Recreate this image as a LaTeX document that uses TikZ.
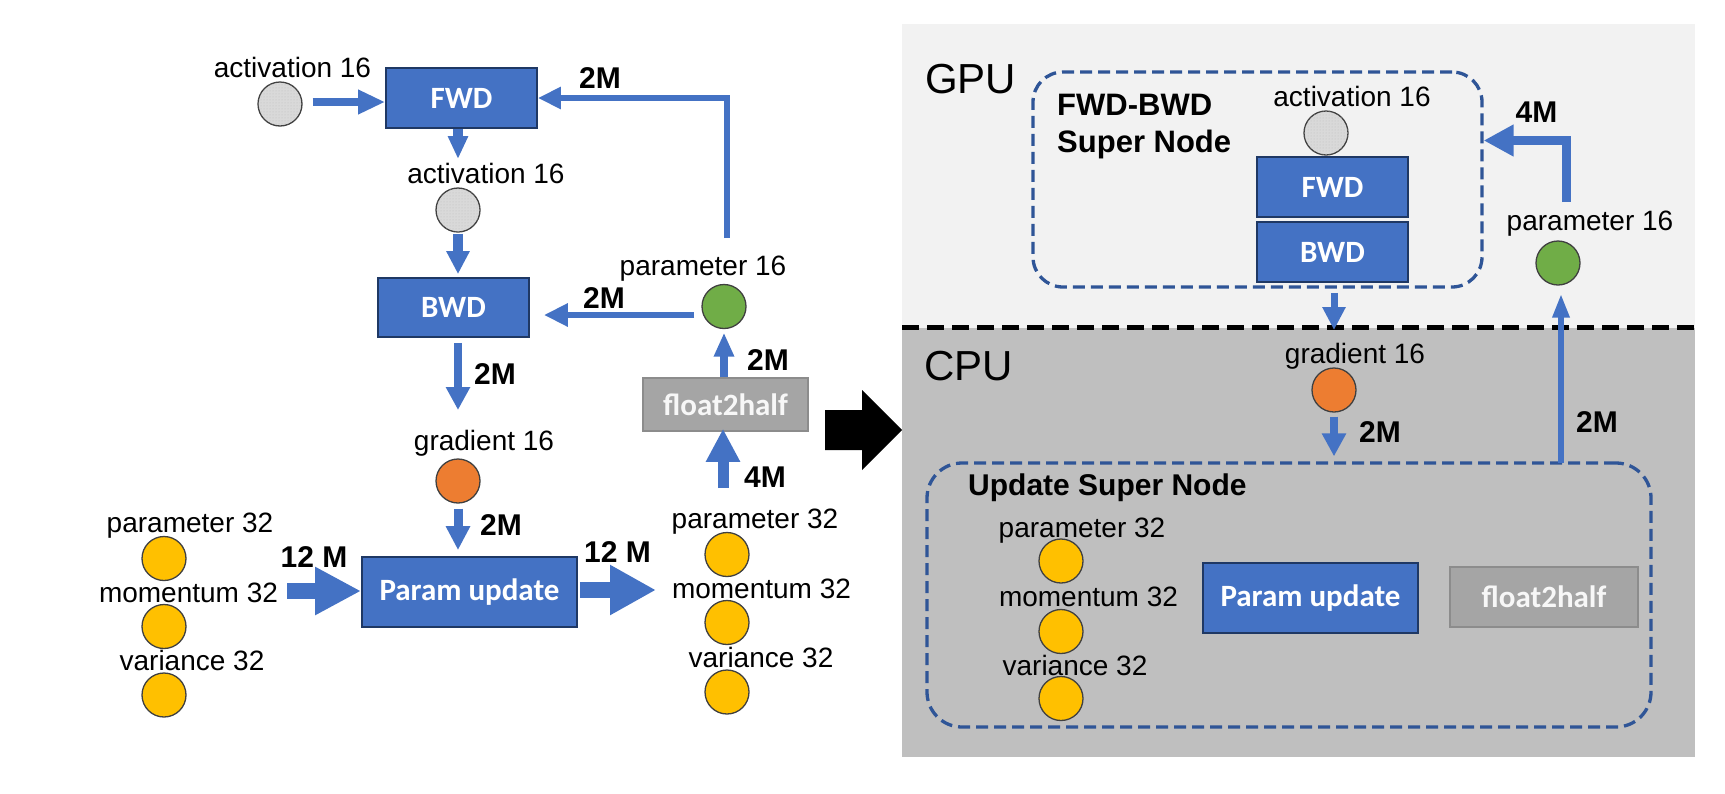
\documentclass[tikz,border=0pt]{standalone}
\usepackage{fontspec}
\setmainfont{Liberation Sans}
\newfontfamily\calfont{Carlito}
\usetikzlibrary{arrows.meta,calc,patterns}
\definecolor{myblue}{HTML}{4472C4}
\definecolor{boxline}{HTML}{1F3864}
\definecolor{dashblue}{HTML}{2F5597}
\definecolor{gpubg}{HTML}{F2F2F2}
\definecolor{cpubg}{HTML}{BFBFBF}
\definecolor{actgray}{HTML}{D9D9D9}
\definecolor{pgreen}{HTML}{70AD47}
\definecolor{gorange}{HTML}{ED7D31}
\definecolor{myellow}{HTML}{FFC000}
\definecolor{fhgray}{HTML}{A5A5A5}
\definecolor{fhline}{HTML}{8C8C8C}
\begin{document}
\begin{tikzpicture}[x=1pt,y=-1pt,
  lbl/.style={font=\fontsize{28}{30}\selectfont, inner sep=0, anchor=base},
  num/.style={font=\bfseries\fontsize{30}{32}\selectfont, inner sep=0, anchor=base},
  title/.style={font=\bfseries\fontsize{31}{33}\selectfont, inner sep=0, anchor=base west},
  hw/.style={font=\fontsize{42}{44}\selectfont, inner sep=0, anchor=base west},
  ball/.style={circle, draw=black!75, line width=1.3pt, minimum size=44pt, inner sep=0},
  actball/.style={ball, fill=actgray, postaction={pattern=dots, pattern color=black!25}},
  bbox/.style={draw=boxline, line width=1.8pt, fill=myblue, text=white,
    font=\calfont\bfseries\fontsize{31}{33}\selectfont, inner sep=0},
  fbox/.style={draw=fhline, line width=1.5pt, fill=fhgray, text=white!97!black,
    font=\calfont\bfseries\fontsize{31}{33}\selectfont, inner sep=0},
  supernode/.style={draw=dashblue, line width=3.3pt, dash pattern=on 12pt off 6pt, inner sep=0},
  flow/.style n args={3}{draw=myblue, line width=#1pt, -{Triangle[length=#2pt,width=#3pt]}}
]
\useasboundingbox (0,0) rectangle (1725,793);

% ---------- backgrounds (right) ----------
\fill[gpubg] (902,24) rectangle (1695,328);
\fill[cpubg] (902,328) rectangle (1695,757);
\draw[line width=5pt, dash pattern=on 17pt off 8pt] (902,327) -- (1695,327);

% ---------- left diagram ----------
\node[lbl] (la1) at (292.5,77) {activation 16};
\node[actball] (act1) at (280,104) {};
\node[bbox, minimum width=151pt, minimum height=60pt] (fwd1) at (461.5,98) {FWD};
\node[lbl] (la2) at (486,183) {activation 16};
\node[actball] (act2) at (458,210) {};
\node[bbox, minimum width=151pt, minimum height=59pt] (bwd1) at (453.5,307.5) {BWD};
\node[lbl] (lp16) at (703,275) {parameter 16};
\node[ball, fill=pgreen] (green1) at (724,306.5) {};
\node[lbl] (lg1) at (484,450) {gradient 16};
\node[ball, fill=gorange] (grad1) at (458,481) {};
\node[bbox, minimum width=215pt, minimum height=70pt] (pu1) at (469.5,592) {Param update};
\node[fbox, minimum width=165pt, minimum height=53pt] (f2h1) at (725.5,404.5) {float2half};

\node[lbl] (lpa) at (190,532) {parameter 32};
\node[ball, fill=myellow] (ya1) at (164,558.5) {};
\node[lbl] (lma) at (188.5,602) {momentum 32};
\node[ball, fill=myellow] (ya2) at (164,626.5) {};
\node[lbl] (lva) at (192,670) {variance 32};
\node[ball, fill=myellow] (ya3) at (164,695) {};

\node[lbl] (lpb) at (755,528) {parameter 32};
\node[ball, fill=myellow] (yb1) at (727,554.5) {};
\node[lbl] (lmb) at (761.5,598) {momentum 32};
\node[ball, fill=myellow] (yb2) at (727,622.5) {};
\node[lbl] (lvb) at (761,667) {variance 32};
\node[ball, fill=myellow] (yb3) at (727,692) {};

% labels of flows
\node[num] (n1) at (600,88) {2M};
\node[num] (n2) at (604,308) {2M};
\node[num] (n3) at (495,384) {2M};
\node[num] (n4) at (501,535) {2M};
\node[num] (n5) at (314,567) {12 M};
\node[num] (n6) at (617.5,562) {12 M};
\node[num] (n7) at (765,487) {4M};
\node[num] (n8) at (768,370) {2M};

% connectors left
\draw[flow={8}{27}{23}] ([xshift=10pt,yshift=2pt]act1.east) -- ([yshift=2pt]act1.east -| fwd1.west);
\coordinate (tipA) at (458,159);
\draw[flow={10}{23}{19}] (fwd1.south -| act2) -- (tipA);
\draw[flow={10}{23}{22}] ([yshift=-1pt]act2.south) -- ([yshift=3pt]bwd1.north -| act2);
\coordinate (p16s) at (694,315);
\draw[flow={6}{24}{22}] (p16s) -- ([xshift=14pt]p16s -| bwd1.east);
\coordinate (loopS) at (727,238);
\draw[flow={6}{23}{21}] (loopS) |- (fwd1.east);
\coordinate (tipB) at (458,410);
\draw[flow={8}{23}{23}] ([yshift=-5pt]bwd1.south -| grad1) -- (tipB);
\draw[flow={9}{24}{23}] ([yshift=-5pt]grad1.south) -- ([yshift=6pt]pu1.north -| grad1);
\coordinate (bigL) at (287,591);
\draw[flow={16}{46}{45}] (bigL) -- (bigL -| pu1.west);
\coordinate (bigR) at (656,590);
\draw[flow={16}{46}{47}] ([xshift=2pt]bigR -| pu1.east) -- (bigR);
\coordinate (c4M) at (723,488);
\draw[flow={11}{33}{32}] (c4M) -- ([yshift=3pt]f2h1.south -| c4M);
\draw[flow={8}{24}{19}] (f2h1.north -| green1) -- ([yshift=-3.5pt]green1.south);

% big black arrow
\fill (825,410) -- (862,410) -- (862,390) -- (902,430) -- (862,470) -- (862,450) -- (825,450) -- cycle;

% ---------- right diagram ----------
\node[hw] (gpu) at (925,93) {GPU};
\node[hw] (cpu) at (924,380) {CPU};

\node[supernode, rounded corners=30pt, minimum width=449pt, minimum height=215pt] (sn1) at (1257.5,179.5) {};
\node[title] (t1) at (1057,115) {FWD-BWD};
\node[title] (t2) at (1057,152) {Super Node};
\node[lbl] (la3) at (1352,106) {activation 16};
\node[actball] (act3) at (1326,133) {};
\node[bbox, minimum width=151pt, minimum height=60pt] (fwd2) at (1332.5,187) {FWD};
\node[bbox, minimum width=151pt, minimum height=60pt] (bwd2) at (1332.5,252) {BWD};

\node[lbl] (lp16b) at (1590,230) {parameter 16};
\node[ball, fill=pgreen] (green2) at (1558,263) {};
\node[num] (n9) at (1536.5,122) {4M};

\node[lbl] (lg2) at (1355,363) {gradient 16};
\node[ball, fill=gorange] (grad2) at (1334,390) {};
\node[num] (n10) at (1380,442) {2M};
\node[num] (n11) at (1597,432) {2M};

\node[supernode, rounded corners=35pt, minimum width=724pt, minimum height=264pt] (sn2) at (1289,595) {};
\node[title, font=\bfseries\fontsize{30}{32}\selectfont] (t3) at (968,495) {Update Super Node};
\node[lbl] (lpc) at (1082,537) {parameter 32};
\node[ball, fill=myellow] (yc1) at (1061,561) {};
\node[lbl] (lmc) at (1088.5,606) {momentum 32};
\node[ball, fill=myellow] (yc2) at (1061,631.5) {};
\node[lbl] (lvc) at (1075,675) {variance 32};
\node[ball, fill=myellow] (yc3) at (1061,698.5) {};
\node[bbox, minimum width=215pt, minimum height=70pt] (pu2) at (1310.5,598) {Param update};
\node[fbox, minimum width=188pt, minimum height=60pt] (f2h2) at (1544,597) {float2half};

% connectors right
\coordinate (cpuTip) at (1334,330);
\draw[flow={7}{23}{22}] ([yshift=-10pt]bwd2.south -| grad2) -- (cpuTip);
\draw[flow={8}{23}{23}] ([yshift=-4pt]grad2.south) -- ([yshift=5pt]sn2.north -| grad2);
\coordinate (up2) at (1561,463);
\draw[flow={6}{24}{16}] (up2) -- ([yshift=-8pt]green2.south -| up2);
\coordinate (c4M2) at (1566,202);
\coordinate (k4M2) at (1566,140.5);
\draw[flow={9}{30}{30}] (c4M2) -- (k4M2) -- (k4M2 -| sn1.east);
\end{tikzpicture}
\end{document}
